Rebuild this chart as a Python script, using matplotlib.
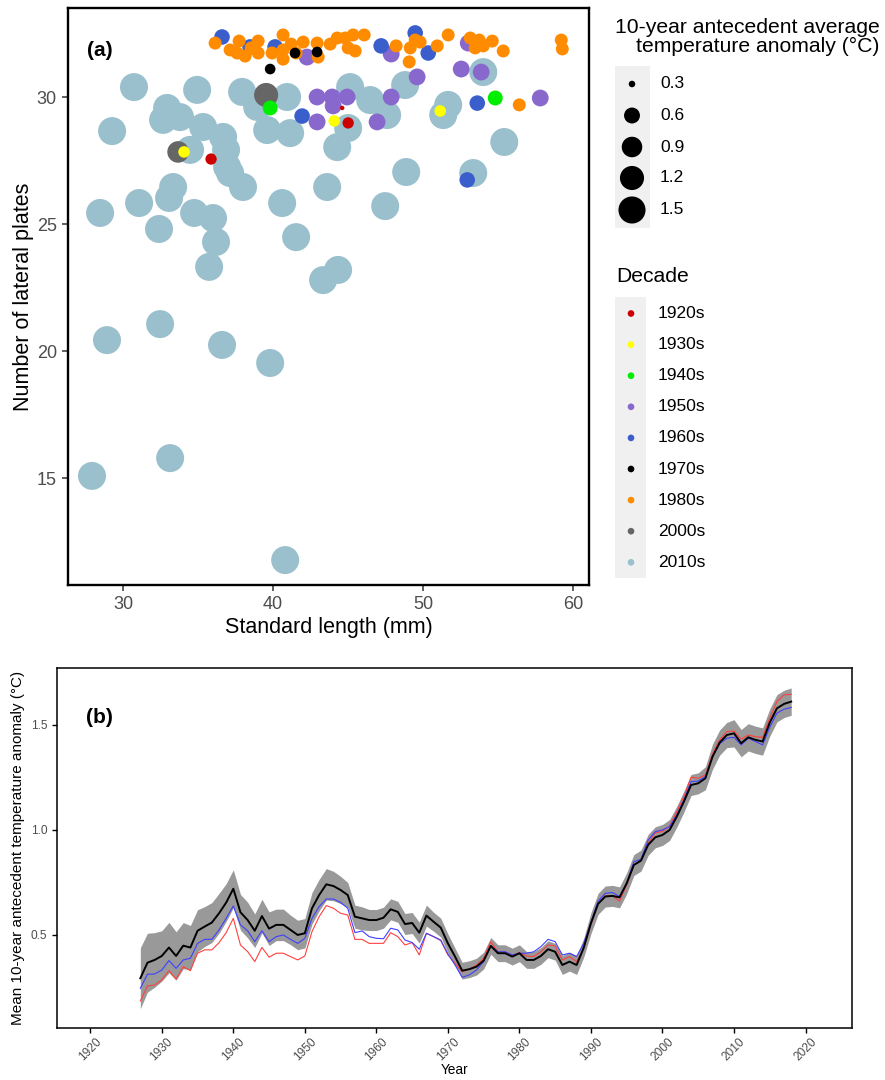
import numpy as np
import matplotlib.pyplot as plt
from matplotlib.patches import Rectangle

plt.rcParams['font.family'] = ['Liberation Sans', 'DejaVu Sans']

# ---- panel (a) data: standard length (mm), lateral plates, 10-yr anomaly
sl_1920s = [35.87, 44.61, 45.01]
lp_1920s = [27.56, 29.57, 28.98]
an_1920s = [0.40, 0.29, 0.40]

sl_1930s = [34.07, 44.08, 51.15]
lp_1930s = [27.84, 29.06, 29.45]
an_1930s = 0.41

sl_1940s = [39.81, 54.82]
lp_1940s = [29.57, 29.96]
an_1940s = 0.55

sl_1950s = [42.27, 42.94, 43.94, 44.94, 44.01, 42.94, 46.94, 47.88, 47.88, 49.61,
            53.02, 52.55, 53.88, 57.82]
lp_1950s = [31.57, 30.0, 30.0, 30.0, 29.65, 29.02, 29.02, 30.0, 31.69, 30.79,
            32.12, 31.10, 30.98, 29.96]
an_1950s = 0.65

sl_1960s = [36.60, 38.47, 40.14, 41.94, 47.21, 49.48, 50.35, 53.62, 52.95]
lp_1960s = [32.36, 31.97, 31.97, 29.25, 32.01, 32.52, 31.73, 29.76, 26.74]
an_1960s = 0.58

sl_1970s = [39.81, 41.47, 42.94]
lp_1970s = [31.10, 31.73, 31.77]
an_1970s = 0.38

sl_1980s = [36.14, 37.14, 37.74, 37.61, 38.14, 38.54, 39.01, 39.01, 39.94, 40.67,
            40.67, 40.67, 41.21, 42.01, 41.54, 42.94, 43.01, 43.81, 44.28, 44.81,
            45.34, 45.01, 45.48, 46.08, 48.21, 49.15, 49.81, 49.48, 49.08, 50.95,
            51.68, 53.15, 53.75, 53.48, 54.02, 54.62, 55.35, 56.42, 59.22, 59.29]
lp_1980s = [32.12, 31.85, 32.20, 31.73, 31.61, 31.93, 32.20, 31.73, 31.73, 32.44,
            31.85, 31.49, 32.08, 32.16, 31.73, 32.12, 31.57, 32.08, 32.32, 32.32,
            32.44, 31.93, 31.81, 32.44, 32.01, 31.93, 32.16, 32.24, 31.38, 32.01,
            32.44, 32.32, 32.24, 31.93, 32.01, 32.20, 31.81, 29.69, 32.24, 31.89]
an_1980s = 0.46

sl_2000s = [39.54, 33.67]
lp_2000s = [30.08, 27.84]
an_2000s = [1.20, 0.98]

sl_2010s = [30.73, 29.27, 28.47, 28.93, 27.93, 32.47, 33.14, 31.07, 32.40, 33.34,
            33.07, 34.74, 36.00, 36.20, 35.74, 36.60, 38.00, 37.14, 40.61, 41.54,
            43.61, 43.34, 44.34, 48.88, 47.48, 53.35, 39.81, 40.81, 34.94, 37.94,
            40.94, 45.14, 46.48, 47.61, 48.81, 45.01, 44.28, 51.68, 51.35, 54.02,
            55.42, 32.94, 33.80, 32.67, 35.34, 36.67, 36.87, 34.47, 36.94, 38.94,
            39.61, 41.14]
lp_2010s = [30.39, 28.66, 25.44, 20.44, 15.10, 21.07, 15.80, 25.83, 24.81, 26.46,
            26.03, 25.44, 25.24, 24.30, 23.32, 20.25, 26.46, 27.01, 25.83, 24.49,
            26.46, 22.80, 23.20, 27.05, 25.71, 27.01, 19.54, 11.79, 30.28, 30.20,
            30.00, 30.39, 29.88, 29.29, 30.47, 28.78, 28.03, 29.69, 29.29, 30.98,
            28.23, 29.57, 29.21, 29.10, 28.82, 28.43, 27.92, 27.92, 27.25, 29.61,
            28.70, 28.58]
an_2010s = 1.60

decades = ['1920s', '1930s', '1940s', '1950s', '1960s', '1970s', '1980s', '2000s', '2010s']
dec_colors = ['#CD0000', '#FFFF00', '#00EE00', '#8968CD', '#3A5FCD', '#000000',
              '#FF8C00', '#666666', '#9AC0CD']
size_breaks = [0.3, 0.6, 0.9, 1.2, 1.5]

# ---- panel (b) data: mean 10-year antecedent anomaly
years = np.arange(1927, 2019)
mean_all = [0.294, 0.368, 0.381, 0.400, 0.440, 0.400, 0.449, 0.440, 0.520, 0.540,
            0.559, 0.603, 0.654, 0.720, 0.608, 0.571, 0.520, 0.590, 0.530, 0.548,
            0.548, 0.524, 0.500, 0.508, 0.627, 0.690, 0.741, 0.733, 0.714, 0.690,
            0.587, 0.579, 0.571, 0.571, 0.582, 0.622, 0.610, 0.552, 0.557, 0.511,
            0.592, 0.563, 0.535, 0.460, 0.397, 0.330, 0.337, 0.349, 0.378, 0.448,
            0.413, 0.413, 0.397, 0.413, 0.381, 0.381, 0.400, 0.432, 0.420, 0.357,
            0.373, 0.357, 0.440, 0.556, 0.648, 0.683, 0.686, 0.679, 0.746, 0.833,
            0.854, 0.929, 0.965, 0.976, 1.000, 1.063, 1.135, 1.214, 1.222, 1.246,
            1.349, 1.416, 1.452, 1.460, 1.413, 1.441, 1.429, 1.421, 1.511, 1.579,
            1.600, 1.611]
band = [0.145, 0.140, 0.130, 0.120, 0.120, 0.115, 0.110, 0.105, 0.100, 0.095,
        0.095, 0.095, 0.090, 0.090, 0.085, 0.085, 0.080, 0.080, 0.080, 0.075,
        0.075, 0.070, 0.070, 0.070, 0.075, 0.075, 0.075, 0.070, 0.065, 0.060,
        0.055, 0.055, 0.050, 0.050, 0.050, 0.050, 0.050, 0.050, 0.050, 0.050,
        0.050, 0.045, 0.045, 0.045, 0.040, 0.040, 0.040, 0.040, 0.040, 0.040,
        0.040, 0.040, 0.040, 0.040, 0.040, 0.040, 0.040, 0.040, 0.040, 0.045,
        0.045, 0.045, 0.045, 0.050, 0.050, 0.050, 0.050, 0.050, 0.050, 0.050,
        0.050, 0.050, 0.050, 0.050, 0.050, 0.050, 0.050, 0.050, 0.050, 0.055,
        0.060, 0.060, 0.060, 0.065, 0.065, 0.065, 0.065, 0.065, 0.065, 0.065,
        0.065, 0.065]
mean_blue = [0.246, 0.313, 0.314, 0.333, 0.378, 0.341, 0.381, 0.389, 0.460, 0.479,
             0.479, 0.524, 0.579, 0.638, 0.548, 0.520, 0.468, 0.520, 0.468, 0.492,
             0.500, 0.479, 0.460, 0.484, 0.579, 0.635, 0.671, 0.671, 0.655, 0.627,
             0.511, 0.519, 0.492, 0.484, 0.482, 0.532, 0.524, 0.476, 0.464, 0.432,
             0.508, 0.492, 0.476, 0.410, 0.357, 0.298, 0.310, 0.333, 0.373, 0.448,
             0.420, 0.420, 0.405, 0.413, 0.413, 0.420, 0.444, 0.479, 0.468, 0.405,
             0.413, 0.397, 0.460, 0.560, 0.661, 0.698, 0.702, 0.683, 0.746, 0.849,
             0.860, 0.952, 0.992, 1.000, 1.016, 1.071, 1.143, 1.230, 1.233, 1.254,
             1.349, 1.410, 1.437, 1.441, 1.405, 1.437, 1.421, 1.405, 1.489, 1.556,
             1.575, 1.583]
mean_red = [0.186, 0.257, 0.262, 0.286, 0.330, 0.290, 0.349, 0.330, 0.413, 0.429,
            0.429, 0.463, 0.511, 0.579, 0.452, 0.421, 0.373, 0.441, 0.394, 0.413,
            0.413, 0.397, 0.381, 0.400, 0.516, 0.587, 0.640, 0.627, 0.603, 0.595,
            0.479, 0.479, 0.460, 0.460, 0.460, 0.511, 0.492, 0.452, 0.464, 0.405,
            0.508, 0.492, 0.473, 0.405, 0.365, 0.325, 0.337, 0.357, 0.389, 0.468,
            0.420, 0.420, 0.400, 0.416, 0.400, 0.397, 0.420, 0.452, 0.448, 0.381,
            0.397, 0.373, 0.436, 0.550, 0.650, 0.686, 0.686, 0.661, 0.738, 0.833,
            0.854, 0.937, 0.987, 0.992, 1.019, 1.087, 1.159, 1.251, 1.246, 1.262,
            1.362, 1.429, 1.468, 1.471, 1.432, 1.452, 1.444, 1.441, 1.532, 1.611,
            1.643, 1.646]


def dot_size(a):
    # ggplot-like area scale: diameter in px -> points^2
    t = np.clip((np.asarray(a, dtype=float) - 0.29) / 1.31, 0, 1)
    d = 4.5 + 23.5 * np.sqrt(t)
    return (d * 0.72) ** 2


fig = plt.figure(figsize=(8.85, 10.8), dpi=100)
W, H = 885.0, 1080.0

# ---------------- panel (a)
ax1 = fig.add_axes([68 / W, 1 - 585 / H, 521 / W, 577 / H])
pts = {
    '1920s': (sl_1920s, lp_1920s, an_1920s),
    '1930s': (sl_1930s, lp_1930s, an_1930s),
    '1940s': (sl_1940s, lp_1940s, an_1940s),
    '1950s': (sl_1950s, lp_1950s, an_1950s),
    '1960s': (sl_1960s, lp_1960s, an_1960s),
    '1970s': (sl_1970s, lp_1970s, an_1970s),
    '1980s': (sl_1980s, lp_1980s, an_1980s),
    '2000s': (sl_2000s, lp_2000s, an_2000s),
    '2010s': (sl_2010s, lp_2010s, an_2010s),
}
col = dict(zip(decades, dec_colors))
order = ['2010s', '2000s', '1950s', '1960s', '1980s', '1970s', '1940s', '1930s', '1920s']
for i, d in enumerate(order):
    x, y, a = pts[d]
    s = dot_size(np.broadcast_to(a, (len(x),)))
    ax1.scatter(x, y, s=s, color=col[d], edgecolors='none', zorder=2 + i)

ax1.set_xlim(26.33, 61.07)
ax1.set_ylim(10.81, 33.50)
ax1.set_xticks([30, 40, 50, 60])
ax1.set_yticks([15, 20, 25, 30])
ax1.tick_params(labelsize=13, labelcolor='#4d4d4d', color='#333333', length=4.5, width=1.1)
for sp in ax1.spines.values():
    sp.set_linewidth(1.7)
    sp.set_color('black')
ax1.set_xlabel('Standard length (mm)', fontsize=15.5, labelpad=3)
ax1.set_ylabel('Number of lateral plates', fontsize=15.5, labelpad=2)
ax1.text(0.061, 0.926, '(a)', transform=ax1.transAxes, fontsize=15, fontweight='bold',
         ha='center', va='center')

# ---------------- legends (pixel coordinates)
leg = fig.add_axes([600 / W, 1 - 590 / H, 285 / W, 590 / H])
leg.set_xlim(600, 885)
leg.set_ylim(590, 0)
leg.axis('off')

leg.text(615, 37, '10-year antecedent average\ntemperature anomaly (\u00b0C)', fontsize=15.2,
         ha='left', va='center', multialignment='right', linespacing=1.05)
leg.add_patch(Rectangle((615, 66), 35, 162, color='#f0f0f0', lw=0))
size_y = [84, 115.5, 147, 178, 210]
leg.scatter([632] * len(size_breaks), size_y, s=dot_size(size_breaks), color='black',
            edgecolors='none', zorder=3)
for yy, b in zip(size_y, size_breaks):
    leg.text(660, yy, f'{b:.1f}', fontsize=12.5, ha='left', va='center')

leg.text(616, 277, 'Decade', fontsize=15.2, ha='left', va='center')
leg.add_patch(Rectangle((615, 297), 31, 281, color='#f0f0f0', lw=0))
dec_y = [313.5 + 31.1 * i for i in range(len(decades))]
leg.scatter([631] * len(decades), dec_y, s=23, color=dec_colors, edgecolors='none', zorder=3)
for yy, d in zip(dec_y, decades):
    leg.text(658, yy, d, fontsize=12.5, ha='left', va='center')

# ---------------- panel (b)
ax2 = fig.add_axes([57 / W, 1 - 1028 / H, 795 / W, 360 / H])
m = np.array(mean_all)
bw = np.array(band)
ax2.fill_between(years, m - bw, m + bw, color='#999999', lw=0, zorder=1)
ax2.plot(years, mean_red, color='#ff4040', lw=0.8, zorder=2)
ax2.plot(years, mean_blue, color='#4040ff', lw=0.8, zorder=3)
ax2.plot(years, mean_all, color='black', lw=1.4, zorder=4)

ax2.set_xlim(1915.35, 2026.5)
ax2.set_ylim(0.057, 1.771)
ax2.set_xticks(range(1920, 2021, 10))
ax2.set_yticks([0.5, 1.0, 1.5])
ax2.set_yticklabels(['0.5', '1.0', '1.5'])
ax2.tick_params(labelsize=8.6, labelcolor='#4d4d4d', color='black', length=3.5, width=1.0)
ax2.tick_params(axis='x', pad=2)
for lab in ax2.get_xticklabels():
    lab.set_rotation(45)
    lab.set_ha('center')
for sp in ax2.spines.values():
    sp.set_linewidth(1.1)
ax2.set_xlabel('Year', fontsize=9.8, labelpad=0)
ax2.set_ylabel('Mean 10-year antecedent temperature anomaly (\u00b0C)', fontsize=11, labelpad=4)
ax2.text(0.054, 0.863, '(b)', transform=ax2.transAxes, fontsize=15, fontweight='bold',
         ha='center', va='center')

fig.savefig('out.png', dpi=100)
